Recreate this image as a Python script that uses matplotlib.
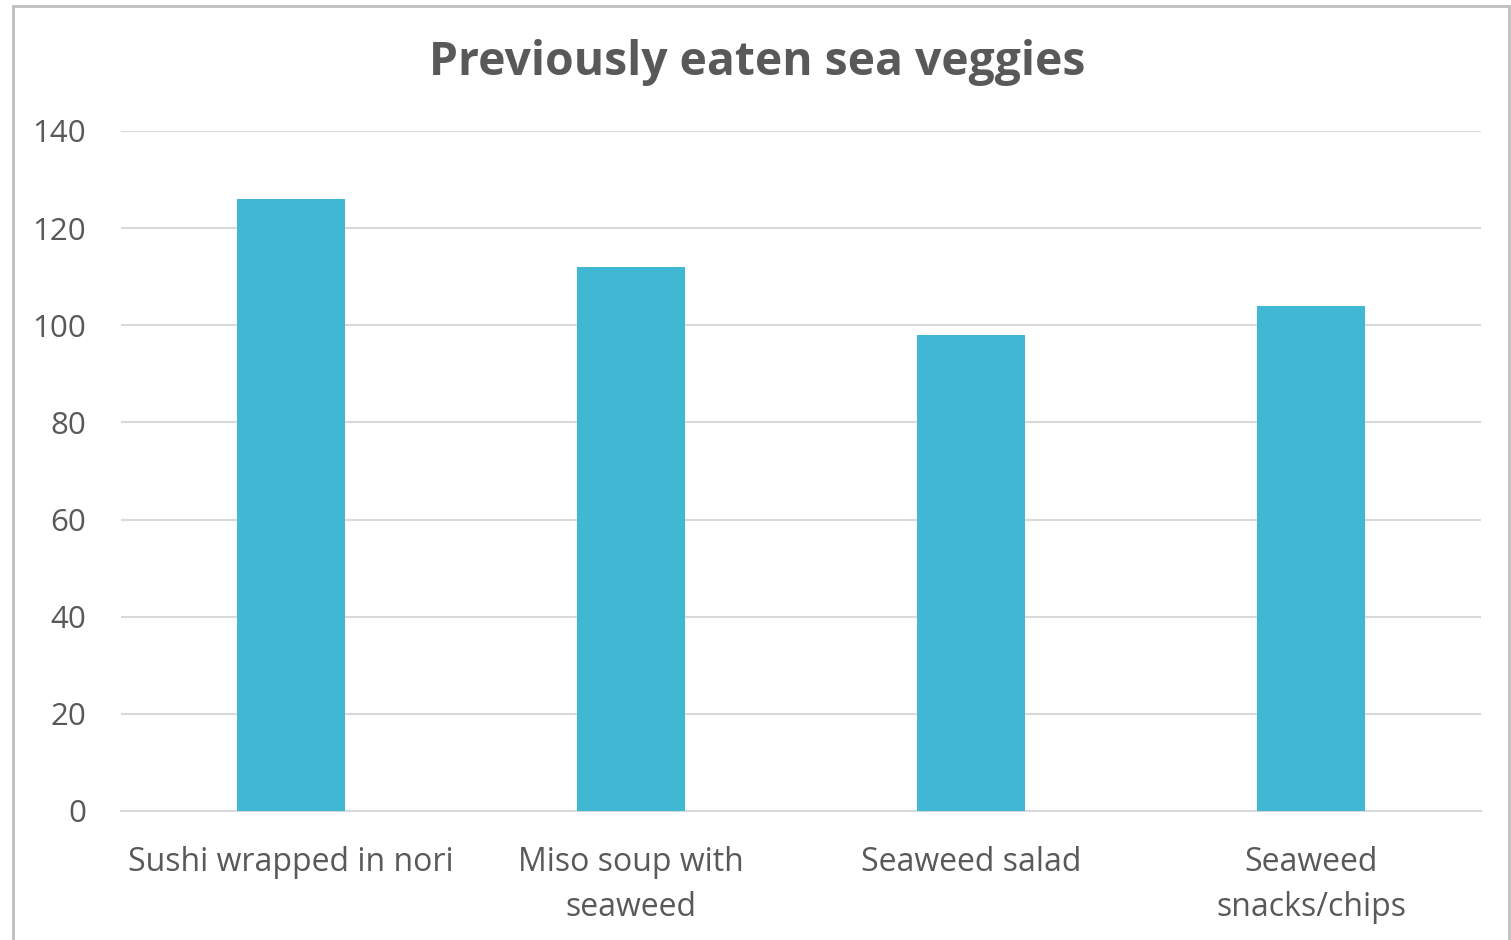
import matplotlib.pyplot as plt
from matplotlib.patches import Rectangle
import numpy as np

categories = ["Sushi wrapped in nori", "Miso soup with\nseaweed", "Seaweed salad", "Seaweed\nsnacks/chips"]
counts = [126, 112, 98, 104]
yticks = [0, 20, 40, 60, 80, 100, 120, 140]

plt.rcParams["font.family"] = ["Open Sans", "DejaVu Sans"]
text_color = "#595959"

fig = plt.figure(figsize=(15.11, 9.40), dpi=100)
ax = fig.add_axes([121 / 1511, 1 - 811 / 940, 1360 / 1511, 680 / 940])

x = np.arange(len(categories))
ax.bar(x, counts, width=0.315, color="#41b8d3", zorder=3)

ax.set_xlim(-0.5, len(categories) - 0.5)
ax.set_ylim(0, 140)
ax.set_yticks(yticks)
ax.set_yticklabels([str(v) for v in yticks], fontsize=22.5, color=text_color)
ax.set_xticks(x)
ax.set_xticklabels(categories, fontsize=23, color=text_color, linespacing=1.5)
ax.tick_params(axis="x", length=0, pad=25)
ax.tick_params(axis="y", length=0, pad=25)
ax.grid(axis="y", color="#d9d9d9", linewidth=1.5, zorder=0)
for side in ("top", "right", "left"):
    ax.spines[side].set_visible(False)
ax.spines["bottom"].set_color("#d9d9d9")
ax.spines["bottom"].set_linewidth(1.5)

fig.text(0.5 + 2 / 1511, 1 - 63 / 940, "Previously eaten sea veggies", ha="center", va="center",
         fontsize=33.3, fontweight="bold", color=text_color)

# chart frame
fig.patches.append(Rectangle((13 / 1511, -0.05), 1496 / 1511, 1.05 - 6 / 940,
                             transform=fig.transFigure, fill=False,
                             edgecolor="#bfbfbf", linewidth=2))

fig.savefig("out.png", dpi=100)
